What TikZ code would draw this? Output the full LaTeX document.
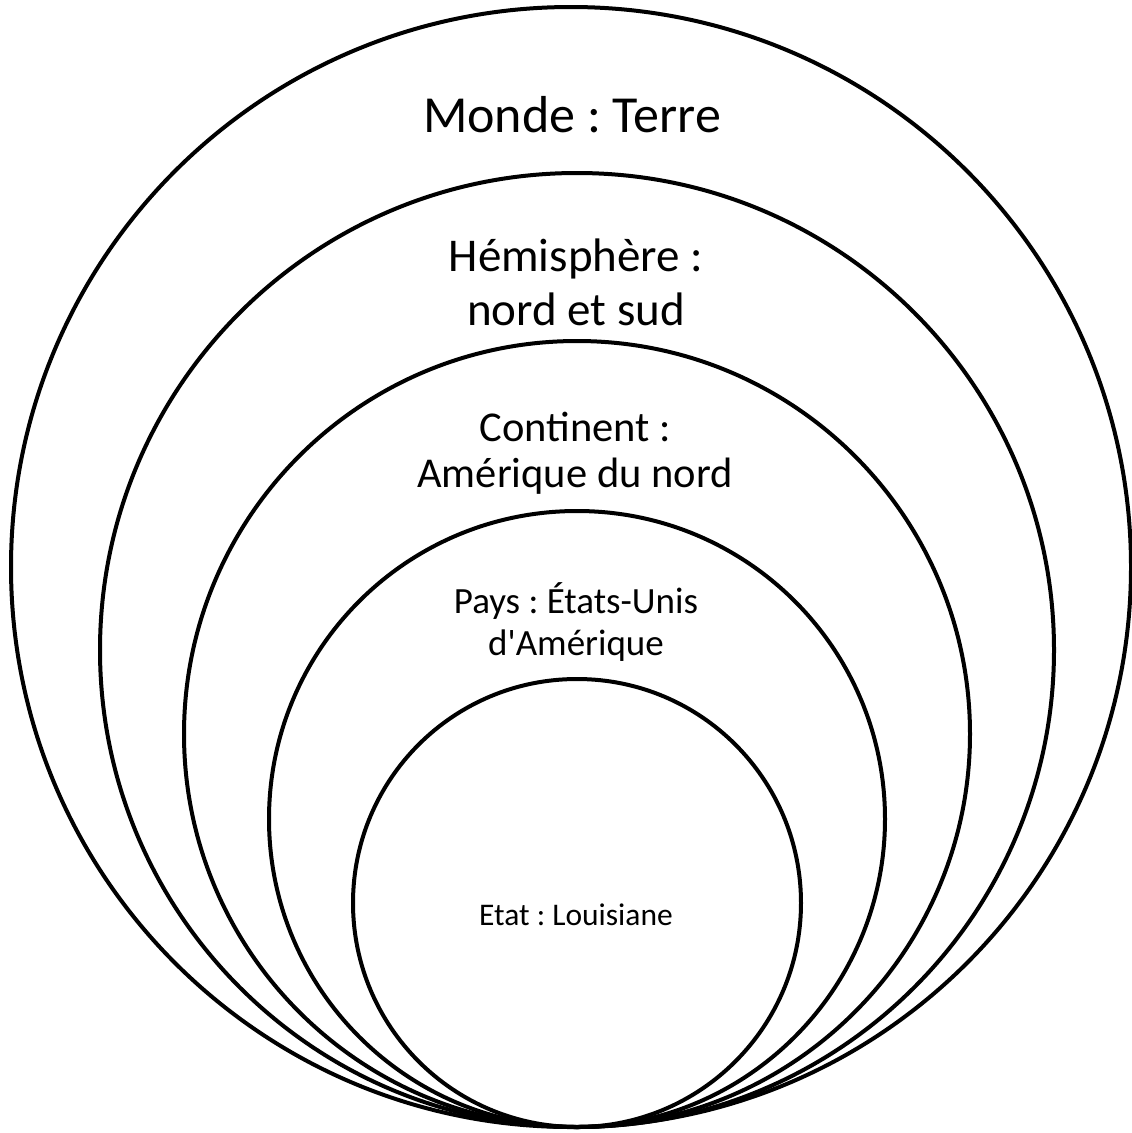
\documentclass[tikz,border=0pt]{standalone}
\usepackage{fontspec}
\setmainfont{Carlito}[Ligatures=TeXOff]
\tikzset{
  ring/.style={draw=black, line width=4pt},
  lbl/.style={anchor=base, inner sep=0pt, text=black}
}
\setlength{\tabcolsep}{0pt}
\frenchspacing
\begin{document}
\begin{tikzpicture}[x=1pt,y=-1pt]
\useasboundingbox (0,0) rectangle (1132,1133);
\fill[white] (0,0) rectangle (1132,1133);
\draw[ring] (571,567) circle (560);
\draw[ring] (577,650) circle (477);
\draw[ring] (577,734) circle (393);
\draw[ring] (577,819) circle (308);
\draw[ring] (577,903) circle (224);
\node[lbl] (monde) at (572,132) {\fontsize{52}{62}\selectfont\frenchspacing Monde : Terre};
\node[lbl] (hemi) at (576,271) {\fontsize{47}{54.5}\selectfont\frenchspacing\begin{tabular}[t]{c}Hémisphère :\\nord et sud\end{tabular}};
\node[lbl] (cont) at (575,441.7) {\fontsize{42.5}{45.6}\selectfont\frenchspacing\begin{tabular}[t]{c}Continent :\\Amérique du nord\end{tabular}};
\node[lbl] (pays) at (576,613) {\fontsize{37}{42}\selectfont\frenchspacing\begin{tabular}[t]{c}Pays : États-Unis\\d'Amérique\end{tabular}};
\node[lbl] (etat) at (576,925) {\fontsize{31.5}{37}\selectfont\frenchspacing Etat : Louisiane};
\end{tikzpicture}
\end{document}
